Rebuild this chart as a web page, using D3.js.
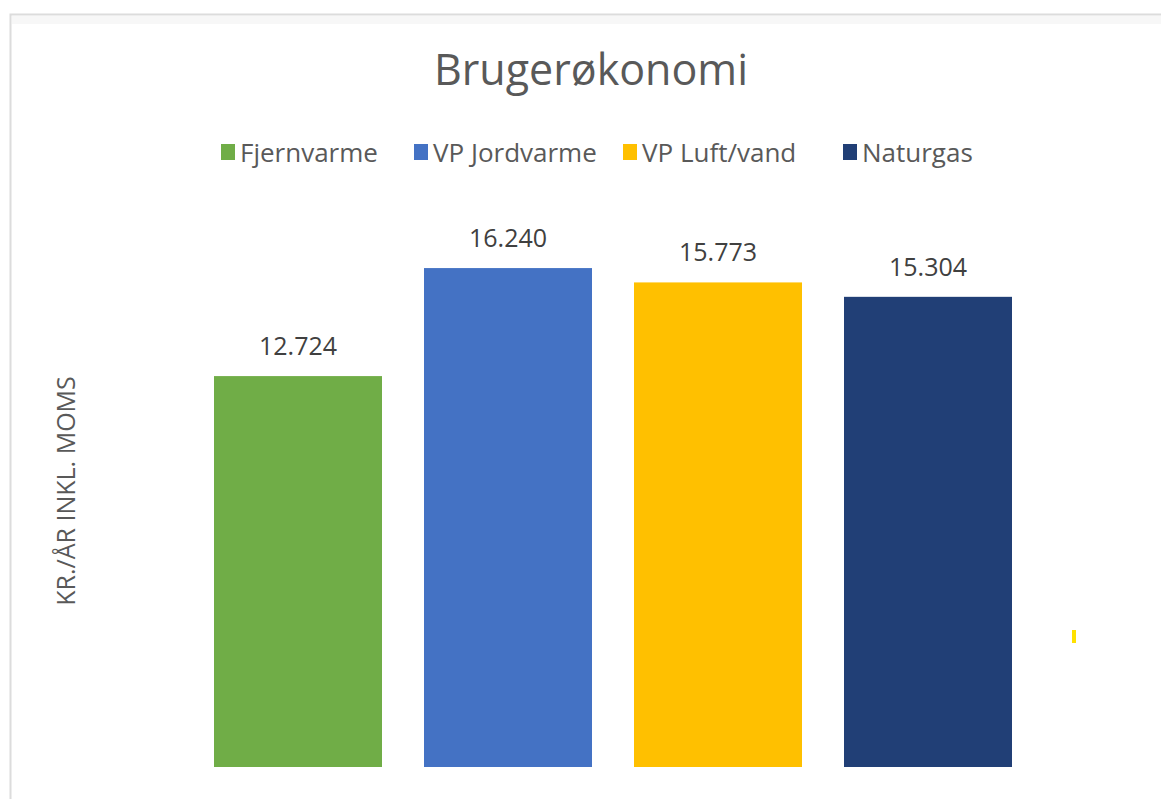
<!DOCTYPE html>
<html><head><meta charset="utf-8">
<script src="https://cdn.jsdelivr.net/npm/d3@7"></script>
<style>body{margin:0;background:#fff;}svg{display:block;}</style>
</head><body>
<svg id="c" width="1161" height="799"></svg>
<script>
const categories = ["Fjernvarme", "VP Jordvarme", "VP Luft/vand", "Naturgas"];
const values = [12724, 16240, 15773, 15304];
const valueLabels = ["12.724", "16.240", "15.773", "15.304"];
const colors = ["#70ad47", "#4472c4", "#ffc000", "#213f76"];
const title = "Brugerøkonomi";
const yTitle = "KR./ÅR INKL. MOMS";

const svg = d3.select("#c");
const font = "'Open Sans', 'Noto Sans', sans-serif";

// frame
svg.append("rect").attr("x", 10.5).attr("y", 14.5).attr("width", 1200).attr("height", 900)
  .attr("fill", "#fff").attr("stroke", "#dcdcdc").attr("stroke-width", 2);
svg.append("rect").attr("x", 12).attr("y", 16).attr("width", 1200).attr("height", 8).attr("fill", "#f7f7f7");

const x = d3.scaleBand().domain(categories).range([214, 1012]).paddingInner(0.2).paddingOuter(0);
const y = d3.scaleLinear().domain([0, 18000]).range([767, 214]);

svg.append("text").attr("x", 591).attr("y", 85).attr("text-anchor", "middle")
  .attr("font-family", font).attr("font-size", 43).attr("fill", "#595959").text(title);

// legend
const legX = [221, 414, 623, 843];
const leg = svg.append("g");
categories.forEach((c, i) => {
  leg.append("rect").attr("x", legX[i]).attr("y", 144).attr("width", 14).attr("height", 16).attr("fill", colors[i]);
  leg.append("text").attr("x", legX[i] + 19).attr("y", 162).attr("font-family", font)
    .attr("font-size", 26).attr("fill", "#595959").text(c);
});

// bars
svg.selectAll(".bar").data(values).join("rect").attr("class", "bar")
  .attr("x", (d, i) => x(categories[i])).attr("width", x.bandwidth())
  .attr("y", d => y(d)).attr("height", d => y(0) - y(d))
  .attr("fill", (d, i) => colors[i]);

svg.selectAll(".lbl").data(values).join("text").attr("class", "lbl")
  .attr("x", (d, i) => x(categories[i]) + x.bandwidth() / 2)
  .attr("y", d => y(d) - 21).attr("text-anchor", "middle")
  .attr("font-family", font).attr("font-size", 25).attr("fill", "#404040")
  .text((d, i) => valueLabels[i]);

svg.append("text").attr("transform", "translate(75,491) rotate(-90)").attr("text-anchor", "middle")
  .attr("font-family", font).attr("font-size", 25).attr("fill", "#595959").text(yTitle);

// small yellow mark
svg.append("rect").attr("x", 1072).attr("y", 630).attr("width", 4).attr("height", 13).attr("fill", "#ffe100");
</script>
</body></html>
